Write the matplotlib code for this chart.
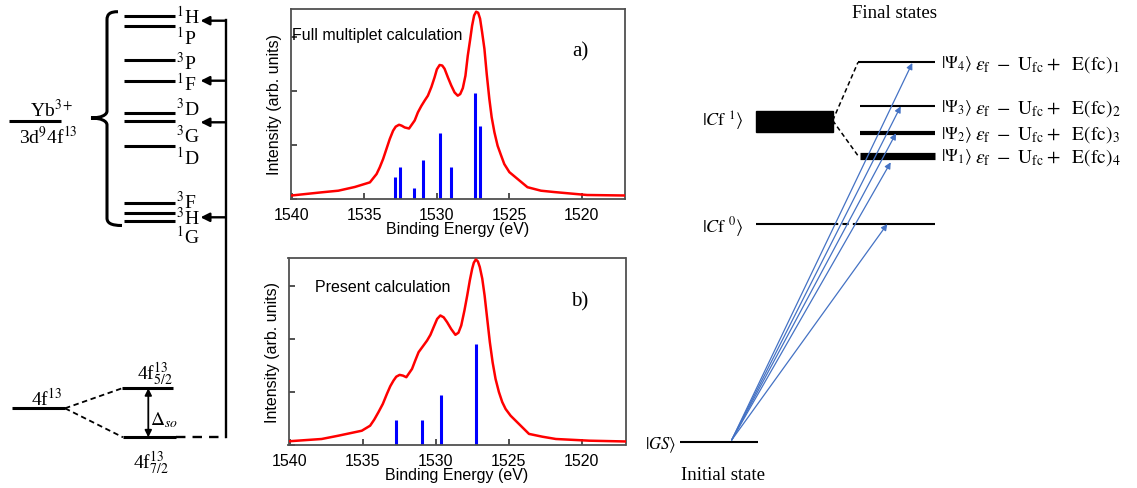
import matplotlib
matplotlib.use('Agg')
import matplotlib.pyplot as plt
from matplotlib.patches import PathPatch, Rectangle
from matplotlib.path import Path

plt.rcParams['font.family'] = 'Liberation Sans'
plt.rcParams['mathtext.fontset'] = 'stix'

SERIF = 'Liberation Serif'

# ---- spectrum a) full multiplet calculation (read off the picture)
energy_a = [1540.0, 1537.92, 1536.78, 1535.64, 1534.60, 1534.14, 1533.92, 1533.69,
            1533.46, 1533.23, 1533.00, 1532.82, 1532.59, 1532.41, 1532.20, 1531.90,
            1531.51, 1531.29, 1531.05, 1530.82, 1530.60, 1530.36, 1530.14, 1529.98,
            1529.79, 1529.61, 1529.45, 1529.22, 1528.99, 1528.76, 1528.54, 1528.37,
            1528.19, 1528.01, 1527.85, 1527.68, 1527.55, 1527.41, 1527.27, 1527.13,
            1527.00, 1526.86, 1526.70, 1526.54, 1526.36, 1526.20, 1526.01, 1525.79,
            1525.55, 1525.33, 1524.98, 1523.73, 1522.80, 1521.89, 1519.62, 1517.08]
intensity_a = [0.056, 0.115, 0.145, 0.214, 0.30, 0.455, 0.58, 0.734,
               0.92, 1.106, 1.26, 1.335, 1.37, 1.353, 1.32, 1.30,
               1.45, 1.60, 1.72, 1.82, 1.91, 2.07, 2.25, 2.40,
               2.48, 2.47, 2.41, 2.25, 2.10, 1.97, 1.91, 1.94,
               2.05, 2.28, 2.65, 2.96, 3.21, 3.40, 3.47, 3.45,
               3.34, 3.09, 2.78, 2.31, 1.85, 1.51, 1.23, 0.98,
               0.80, 0.64, 0.49, 0.21, 0.145, 0.12, 0.065, 0.056]
stick_e_a = [1532.87, 1532.54, 1531.56, 1530.91, 1529.75, 1529.04, 1527.32, 1527.02]
stick_i_a = [0.405, 0.58, 0.195, 0.716, 1.22, 0.59, 1.955, 1.35]

# ---- spectrum b) present calculation
energy_b = [1540.10, 1537.81, 1536.67, 1535.06, 1534.49, 1534.21, 1533.92, 1533.62,
            1533.34, 1533.11, 1532.89, 1532.70, 1532.47, 1532.24, 1532.01, 1531.62,
            1531.40, 1531.17, 1530.87, 1530.59, 1530.36, 1530.14, 1529.90, 1529.68,
            1529.45, 1529.22, 1528.94, 1528.65, 1528.44, 1528.25, 1528.03, 1527.84,
            1527.66, 1527.50, 1527.39, 1527.25, 1527.11, 1526.98, 1526.81, 1526.65,
            1526.47, 1526.29, 1526.10, 1525.90, 1525.67, 1525.44, 1525.21, 1524.87,
            1523.61, 1522.69, 1521.77, 1519.48, 1516.96]
intensity_b = [0.06, 0.104, 0.166, 0.26, 0.355, 0.469, 0.61, 0.766,
               0.955, 1.10, 1.206, 1.28, 1.314, 1.30, 1.27, 1.427,
               1.585, 1.743, 1.856, 1.962, 2.07, 2.215, 2.37, 2.435,
               2.40, 2.31, 2.18, 2.07, 2.11, 2.246, 2.53, 2.813,
               3.10, 3.318, 3.43, 3.493, 3.455, 3.35, 3.13, 2.813,
               2.37, 1.93, 1.55, 1.238, 0.99, 0.80, 0.67, 0.544,
               0.20, 0.147, 0.104, 0.072, 0.057]
stick_e_b = [1532.75, 1530.96, 1529.61, 1527.27]
stick_i_b = [0.47, 0.47, 0.94, 1.90]

energy_ticks = [1540, 1535, 1530, 1525, 1520]

# ---- left diagram: Yb3+ 3d9 4f13 terms
terms = ['1H', '1P', '3P', '1F', '3D', '3G', '1D', '3F', '3H', '1G']
term_y = [16.7, 27.3, 60.7, 81.7, 114.3, 122.0, 146.7, 204.0, 214.3, 221.7]
term_label_y = [17, 38, 63, 84, 109, 136, 158, 202, 218, 237]
pointer_y = [21.7, 81.7, 123.3, 218.3]

# ---- right diagram: final states
psi_index = [4, 3, 2, 1]
fc_index = [1, 2, 3, 4]
psi_y = [63.3, 107.3, 134.0, 156.7]
psi_lw = [1.5, 1.5, 3.0, 5.2]
arrow_tip_x = [912.3, 900.7, 896.0, 890.7, 887.3]
arrow_tip_y = [64.0, 107.3, 134.3, 163.3, 225.0]
blue = '#4472c4'

W, H = 1137, 489
fig = plt.figure(figsize=(W / 100, H / 100), dpi=100)

ov = fig.add_axes([0, 0, 1, 1])
ov.set_xlim(0, W)
ov.set_ylim(H, 0)
ov.axis('off')


def hline(x0, x1, y, lw=2.2, ls='-'):
    ov.plot([x0, x1], [y, y], color='k', lw=lw, ls=ls, solid_capstyle='butt')


# left: multiplet levels
for y in term_y:
    hline(124, 175, y)
for t, y in zip(terms, term_label_y):
    ov.text(176, y, r'$^{%s}$%s' % (t[0], t[1]), fontsize=14, family=SERIF,
            va='center', ha='left')

# curly brace
M, C, L = Path.MOVETO, Path.CURVE4, Path.LINETO
verts = [(118, 12.7), (110, 12.7), (107, 15), (107, 21),
         (107, 112),
         (107, 116), (101, 119), (91, 119),
         (101, 119), (107, 122), (107, 126),
         (107, 219),
         (107, 224), (111, 226.5), (122, 226.5)]
codes = [M, C, C, C, L, C, C, C, C, C, C, L, C, C, C]
ov.add_patch(PathPatch(Path(verts, codes), fill=False, lw=2.2, color='k'))

ov.text(51.7, 110, r'Yb$^{3+}$', fontsize=14, family=SERIF, ha='center', va='center')
hline(9, 61, 122)
ov.text(48, 137, r'3d$^9$4f$^{13}$', fontsize=14, family=SERIF, ha='center', va='center')

# right vertical connector with pointers
ov.plot([225.7, 225.7], [21, 438.3], color='k', lw=1.7)
for y in pointer_y:
    ov.annotate('', xy=(200.5, y), xytext=(225.7, y),
                arrowprops=dict(arrowstyle='-|>', color='k', lw=1.7,
                                mutation_scale=13, shrinkA=0, shrinkB=0))

# spin-orbit splitting
hline(12, 65, 409.3)
hline(122, 173, 389.3)
hline(123, 176, 438.3)
hline(176, 225.7, 438.3, lw=1.7, ls=(0, (4, 3)))
ov.plot([65, 122], [409.3, 389.3], color='k', lw=1.3, ls=(0, (3, 2)))
ov.plot([65, 123], [409.3, 438.3], color='k', lw=1.3, ls=(0, (3, 2)))
ov.annotate('', xy=(148.3, 389.3), xytext=(148.3, 438.3),
            arrowprops=dict(arrowstyle='<|-|>', color='k', lw=1.3,
                            mutation_scale=10, shrinkA=0, shrinkB=0))
ov.text(47, 399, r'4f$^{13}$', fontsize=14, family=SERIF, ha='center', va='center')
ov.text(155, 374, r'4f$^{13}_{5/2}$', fontsize=14, family=SERIF, ha='center', va='center')
ov.text(151, 463, r'4f$^{13}_{7/2}$', fontsize=14, family=SERIF, ha='center', va='center')
ov.text(150, 420, r'$\Delta_{so}$', fontsize=14, ha='left', va='center')

# right: final / initial states
ov.text(895, 13, 'Final states', fontsize=13.5, family=SERIF, ha='center', va='center')
for n, m, y, lw in zip(psi_index, fc_index, psi_y, psi_lw):
    hline(858 if n == 4 else 860, 935, y, lw=lw)
    ov.text(941, y + 1, r'$|\Psi_{%d}\rangle$' % n, fontsize=12.5, ha='left', va='center')
    ov.text(975, y + 1,
            r'$\varepsilon_{\mathrm{f}}\ -\ \mathrm{U}_{\mathrm{fc}}+\ \ \mathrm{E(fc)}_{%d}$' % m,
            fontsize=14, ha='left', va='center')
ov.add_patch(Rectangle((756, 111.7), 76.7, 21.6, color='k'))
ov.plot([832.7, 858], [121.5, 63.3], color='k', lw=1.1, ls=(0, (3, 2)))
ov.plot([832.7, 858], [121.5, 156.7], color='k', lw=1.1, ls=(0, (3, 2)))
ov.text(702, 121.7, r'$|C\mathrm{f}\ ^{1}\rangle$', fontsize=13, ha='left', va='center')

hline(756, 832, 225, lw=1.5)
hline(832, 857, 225, lw=1.5, ls=(0, (3, 2)))
hline(857, 935, 225, lw=1.5)
ov.text(702, 227, r'$|C\mathrm{f}\ ^{0}\rangle$', fontsize=13, ha='left', va='center')

hline(680, 758, 442.7, lw=1.5)
ov.text(645, 445, r'$|GS\rangle$', fontsize=12, ha='left', va='center')
ov.text(681, 475, 'Initial state', fontsize=13.5, family=SERIF, ha='left', va='center')

for tx, ty in zip(arrow_tip_x, arrow_tip_y):
    ov.annotate('', xy=(tx, ty), xytext=(731.7, 441),
                arrowprops=dict(arrowstyle='-|>', color=blue, lw=0.9,
                                mutation_scale=9, shrinkA=0, shrinkB=0))


# spectra
def px_axes(left, top, right, bottom):
    return fig.add_axes([left / W, 1 - bottom / H, (right - left) / W, (bottom - top) / H])


def spectrum(rect, e, inten, se, si, note, note_xy, tag, tag_xy):
    ax = px_axes(*rect)
    ax.plot(e, inten, color='#ff0000', lw=1.8, zorder=3)
    ax.vlines(se, 0, si, color='#0000ff', lw=2.2, zorder=2)
    ax.set_xlim(1540.08, 1517.0)
    ax.set_ylim(0, 3.52)
    ax.set_xticks(energy_ticks)
    ax.set_yticks([0, 1, 2, 3])
    ax.set_yticklabels([])
    ax.tick_params(direction='in', length=4, width=1.2, color='#333333',
                   labelsize=11.5, pad=6)
    for s in ax.spines.values():
        s.set_color('#505050')
        s.set_linewidth(1.3)
    ax.set_xlabel('Binding Energy (eV)', fontsize=11.5)
    ax.xaxis.set_label_coords(0.5, -0.118)
    ax.set_ylabel('Intensity (arb. units)', fontsize=11.5)
    ax.yaxis.set_label_coords(-0.024, 0.5)
    ax.text(note_xy[0], note_xy[1], note, fontsize=11.5, transform=ax.transAxes,
            ha='left', va='center')
    ax.text(tag_xy[0], tag_xy[1], tag, fontsize=15, family=SERIF,
            transform=ax.transAxes, ha='center', va='center')
    return ax


spectrum((290.5, 10, 625, 199.5), energy_a, intensity_a, stick_e_a, stick_i_a,
         'Full multiplet calculation', (0.003, 0.868), 'a)', (0.866, 0.778))
spectrum((288.5, 259, 625.5, 445.5), energy_b, intensity_b, stick_e_b, stick_i_b,
         'Present calculation', (0.079, 0.848), 'b)', (0.865, 0.771))

fig.savefig('out.png', dpi=100)
